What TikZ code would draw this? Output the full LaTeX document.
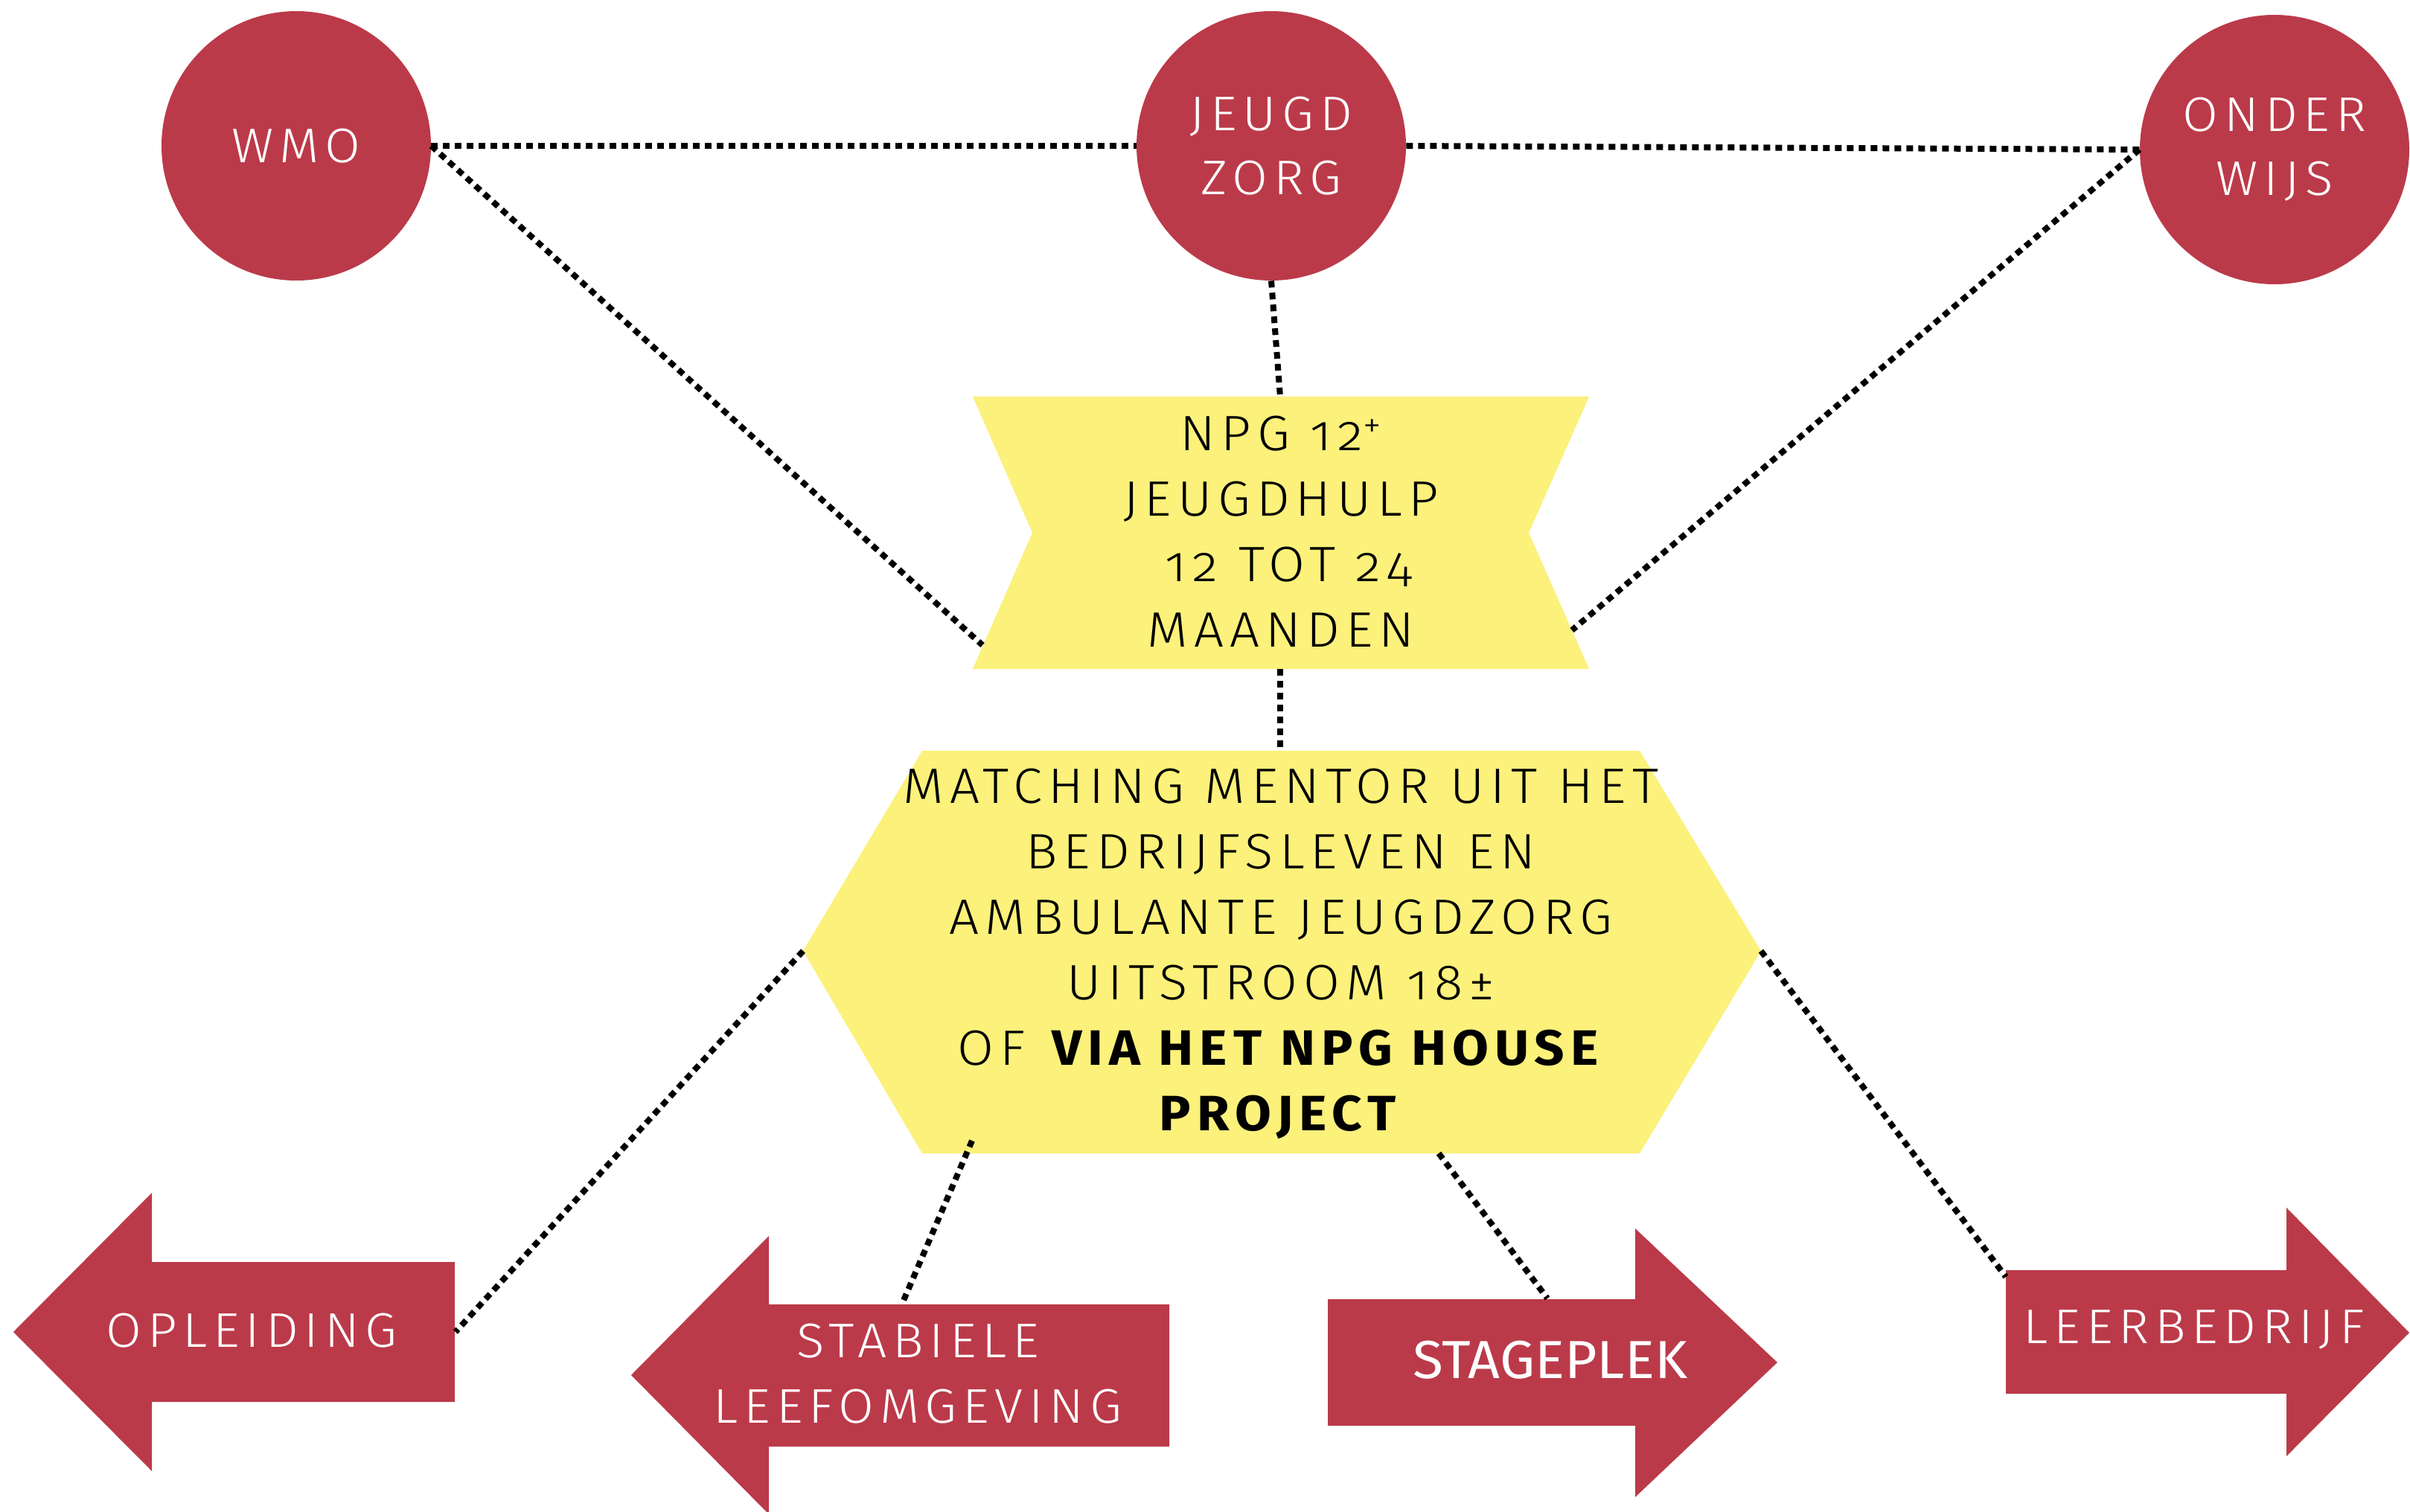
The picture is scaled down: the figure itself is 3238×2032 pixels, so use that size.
\documentclass[tikz,border=0pt]{standalone}
\usepackage{fontspec}
\IfFontExistsTF{Fira Sans Light}{%
  \setmainfont{Fira Sans}[UprightFont=* Light, BoldFont=* Bold, LetterSpace=12, FakeStretch=1.06, Numbers=OldStyle]}{%
  \setmainfont{Fira Sans}[LetterSpace=10, FakeStretch=1.06, Numbers=OldStyle]}
\newfontfamily\plainf{Fira Sans}[FakeStretch=1.04]
\definecolor{npgred}{RGB}{187,58,73}
\definecolor{npgyellow}{RGB}{252,241,123}
\begin{document}
\begin{tikzpicture}[x=0.5pt,y=-0.5pt,
  dots/.style={line width=4pt, dash pattern=on 4.5pt off 3.5pt, black},
  hubnode/.style={circle, fill=npgred, minimum size=181pt, inner sep=0pt, text=white, align=center, font=\fontsize{32.7}{43}\selectfont},
  yeltext/.style={inner sep=0pt, align=center, text=black, font=\fontsize{33.4}{44}\selectfont},
  arrtext/.style={inner sep=0pt, align=center, text=white, font=\fontsize{32.7}{44}\selectfont},
  redfill/.style={fill=npgred},
  yelfill/.style={fill=npgyellow}]
\useasboundingbox (0,0) rectangle (3238,2032);
\fill[white] (0,0) rectangle (3238,2032);

% yellow shapes
\fill[yelfill] (1307,533) -- (2135,533) -- (2054,716) -- (2135,899) -- (1307,899) -- (1387,716) -- cycle;
\fill[yelfill] (1239,1009) -- (2203,1009) -- (2366,1278) -- (2203,1550) -- (1239,1550) -- (1079,1278) -- cycle;

% arrows
\fill[redfill] (18,1790) -- (204,1603) -- (204,1696) -- (611,1696) -- (611,1884) -- (204,1884) -- (204,1977) -- cycle;
\fill[redfill] (848,1848) -- (1033,1661) -- (1033,1753) -- (1571,1753) -- (1571,1944) -- (1033,1944) -- (1033,2035) -- cycle;
\fill[redfill] (1784,1746) -- (2197,1746) -- (2197,1651) -- (2388,1831) -- (2197,2012) -- (2197,1916) -- (1784,1916) -- cycle;
\fill[redfill] (2695,1707) -- (3072,1707) -- (3072,1623) -- (3237,1791) -- (3072,1957) -- (3072,1873) -- (2695,1873) -- cycle;

% circles
\node[hubnode] (wmo) at (398,196) {WMO};
\node[hubnode] (jeugd) at (1708,196) {JEUGD\\ZORG};
\node[hubnode] (onder) at (3056,201) {ONDER\\WIJS};

% texts
\node[yeltext] (npg) at (1721,714) {NPG 12\textsuperscript{+}\\JEUGDHULP\\\hspace*{10pt}12 TOT 24\\MAANDEN};
\node[yeltext] (hex) at (1721,1282) {MATCHING MENTOR UIT HET\\BEDRIJFSLEVEN EN\\AMBULANTE JEUGDZORG\\UITSTROOM 18±\\OF \textbf{VIA HET NPG HOUSE}\\\textbf{PROJECT}};
\node[arrtext] (opl) at (338,1788) {OPLEIDING};
\node[arrtext] (stab) at (1233,1846) {STABIELE\\LEEFOMGEVING};
\node[arrtext, font=\plainf\fontsize{36}{44}\selectfont] (stage) at (2083,1828) {STAGEPLEK};
\node[arrtext] (leer) at (2948,1787) {LEERBEDRIJF};

% connection points
\coordinate (npgN) at (1720,533);
\coordinate (npgS) at (1720,899);
\coordinate (npgSW) at (1320,867);
\coordinate (npgSE) at (2112,847);
\coordinate (hexN) at (1720,1009);
\coordinate (hexW) at (1079,1278);
\coordinate (hexE) at (2366,1278);
\coordinate (hexSW) at (1306,1533);
\coordinate (hexSE) at (1933,1550);
\coordinate (oplE) at (612,1790);
\coordinate (stabN) at (1213,1750);
\coordinate (stageN) at (2079,1745);
\coordinate (leerN) at (2695,1716);

% connectors
\draw[dots] (wmo.east) -- (jeugd.west);
\draw[dots] (jeugd.east) -- (onder.west);
\draw[dots] (wmo.east) -- (npgSW);
\draw[dots] (onder.west) -- (npgSE);
\draw[dots] (jeugd.south) -- (npgN);
\draw[dots] (npgS) -- (hexN);
\draw[dots] (hexW) -- (oplE);
\draw[dots] (hexSW) -- (stabN);
\draw[dots] (hexSE) -- (stageN);
\draw[dots] (hexE) -- (leerN);
\end{tikzpicture}
\end{document}
